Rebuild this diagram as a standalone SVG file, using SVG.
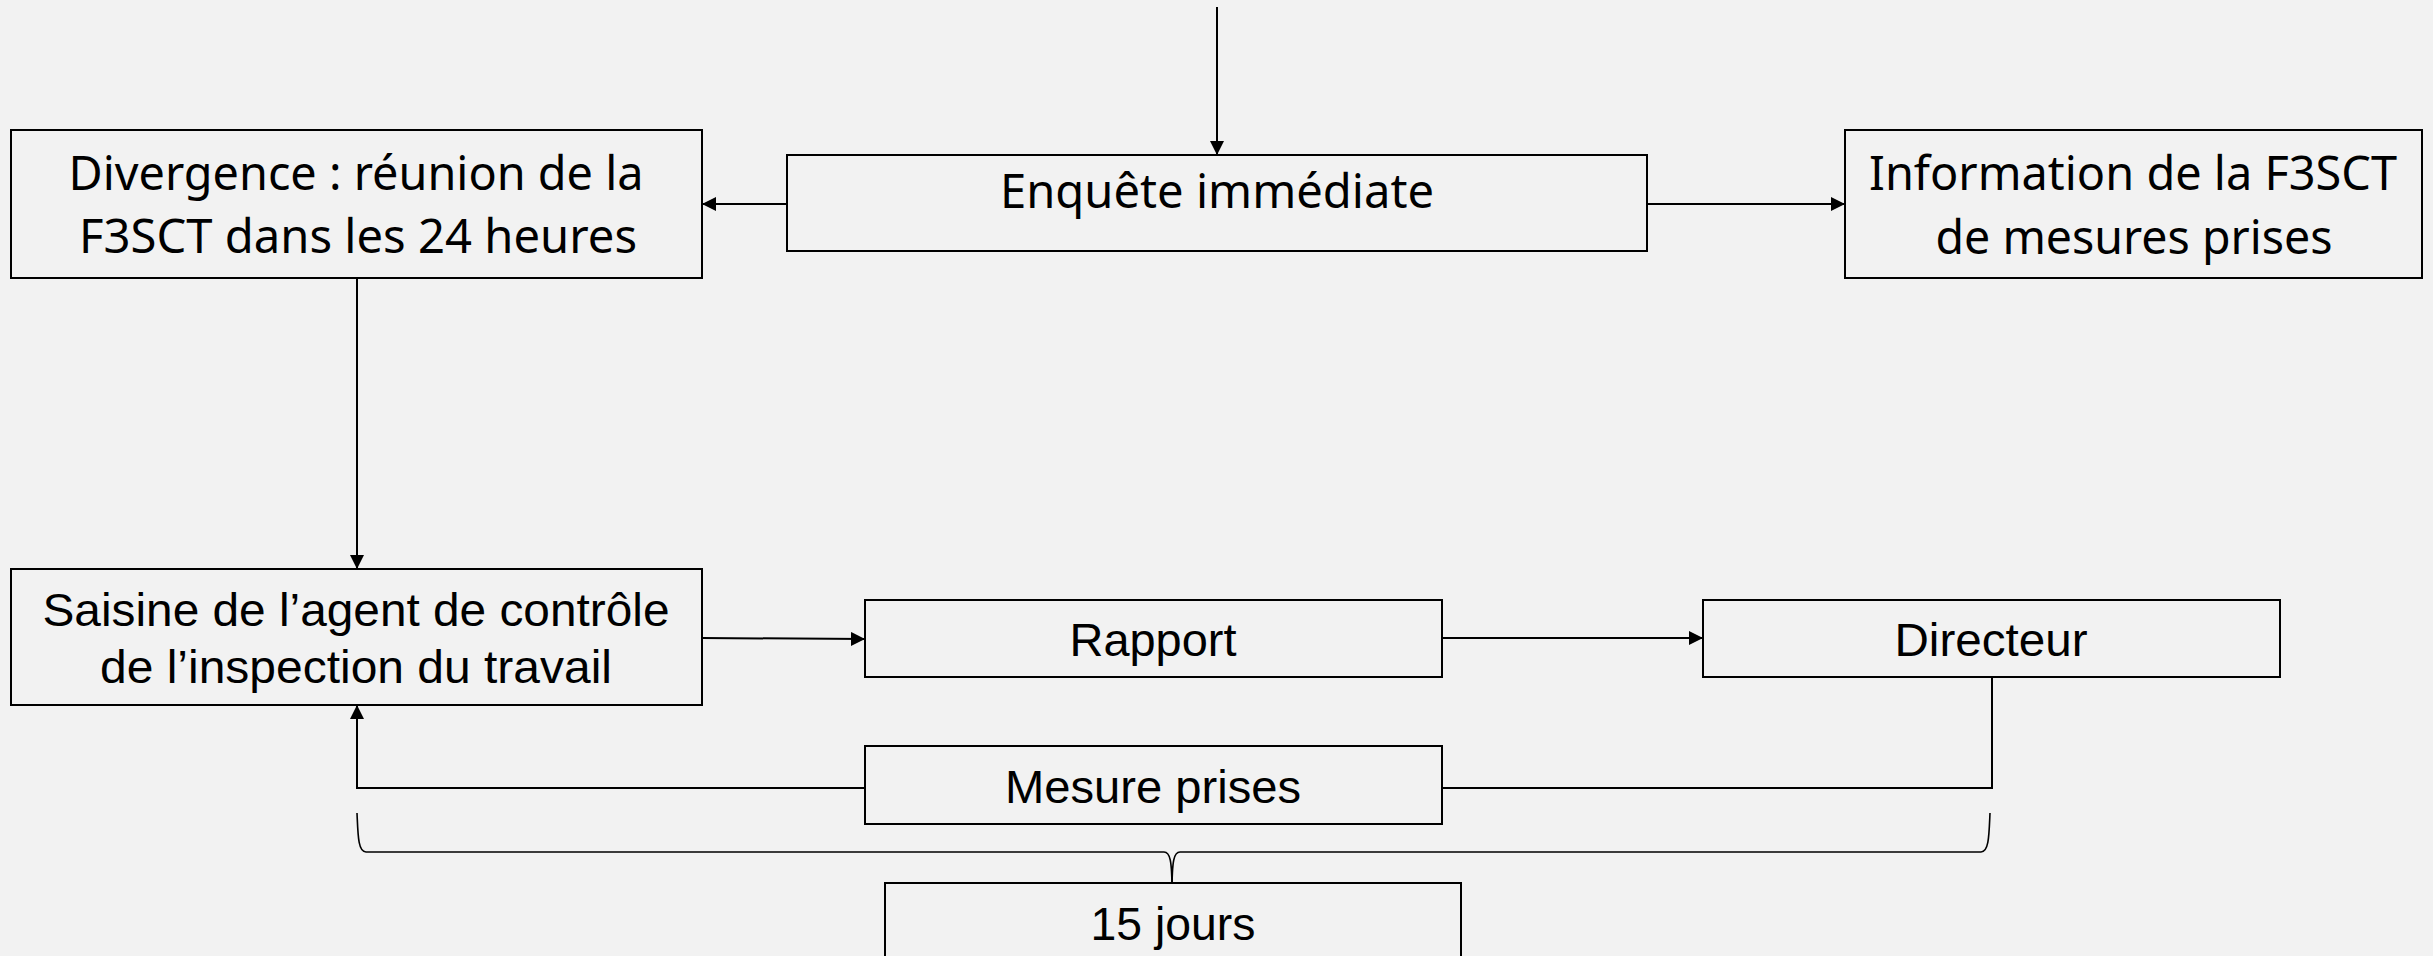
<svg xmlns="http://www.w3.org/2000/svg" width="2433" height="956" viewBox="0 0 2433 956">
<style>
.box{fill:#f2f2f2;stroke:#000;stroke-width:2}
.t1{font-family:"Noto Sans",Lato,sans-serif;font-size:47px;fill:#000;text-anchor:middle}
.t2{font-family:"Liberation Sans",Arial,sans-serif;font-size:46px;fill:#000;text-anchor:middle}
.ln{fill:none;stroke:#000;stroke-width:2}
.br{fill:none;stroke:#000;stroke-width:1.6}
</style>
<defs>
<marker id="ah" viewBox="0 0 10 10" refX="10" refY="5" markerWidth="7" markerHeight="7" orient="auto" markerUnits="strokeWidth">
<path d="M0,0 L10,5 L0,10 z" fill="#000"/>
</marker>
</defs>
<rect width="2433" height="956" fill="#f2f2f2"/>
<g id="connectors">
<path class="ln" d="M1217,7 V155" marker-end="url(#ah)" stroke-width="1.6"/>
<path class="ln" d="M787,204 H702" marker-end="url(#ah)"/>
<path class="ln" d="M1647,204 H1845" marker-end="url(#ah)"/>
<path class="ln" d="M357,279 V569" marker-end="url(#ah)"/>
<path class="ln" d="M702,638 L865,639" marker-end="url(#ah)"/>
<path class="ln" d="M1442,638 H1703" marker-end="url(#ah)"/>
<path class="ln" d="M1992,677 V788 H1442"/>
<path class="ln" d="M865,788 H357 V705" marker-end="url(#ah)"/>
<path class="br" d="M357,813 C358,835 358,852 366,852 H1164 C1170,852 1172,860 1172,892"/>
<path class="br" d="M1990,813 C1989,835 1989,852 1981,852 H1180 C1174,852 1172,860 1172,892"/>
</g>
<g id="enquete">
<rect class="box" x="787" y="155" width="860" height="96"/>
<text class="t1" x="1217" y="208" textLength="434" lengthAdjust="spacingAndGlyphs">Enquête immédiate</text>
</g>
<g id="divergence">
<rect class="box" x="11" y="130" width="691" height="148"/>
<text class="t1" x="356" y="190" textLength="575" lengthAdjust="spacingAndGlyphs">Divergence : réunion de la</text>
<text class="t1" x="358" y="253" textLength="558" lengthAdjust="spacingAndGlyphs">F3SCT dans les 24 heures</text>
</g>
<g id="information">
<rect class="box" x="1845" y="130" width="577" height="148"/>
<text class="t1" x="2133" y="190" textLength="528" lengthAdjust="spacingAndGlyphs">Information de la F3SCT</text>
<text class="t1" x="2134" y="254" textLength="397" lengthAdjust="spacingAndGlyphs">de mesures prises</text>
</g>
<g id="saisine">
<rect class="box" x="11" y="569" width="691" height="136"/>
<text class="t2" x="356" y="626" textLength="627" lengthAdjust="spacingAndGlyphs">Saisine de l’agent de contrôle</text>
<text class="t2" x="356" y="683" textLength="512" lengthAdjust="spacingAndGlyphs">de l’inspection du travail</text>
</g>
<g id="rapport">
<rect class="box" x="865" y="600" width="577" height="77"/>
<text class="t2" x="1153" y="656" textLength="167" lengthAdjust="spacingAndGlyphs">Rapport</text>
</g>
<g id="directeur">
<rect class="box" x="1703" y="600" width="577" height="77"/>
<text class="t2" x="1991" y="656" textLength="193" lengthAdjust="spacingAndGlyphs">Directeur</text>
</g>
<g id="mesure">
<rect class="box" x="865" y="746" width="577" height="78"/>
<text class="t2" x="1153" y="803" textLength="296" lengthAdjust="spacingAndGlyphs">Mesure prises</text>
</g>
<g id="jours">
<rect class="box" x="885" y="883" width="576" height="90"/>
<text class="t2" x="1173" y="940" textLength="165" lengthAdjust="spacingAndGlyphs">15 jours</text>
</g>
</svg>
